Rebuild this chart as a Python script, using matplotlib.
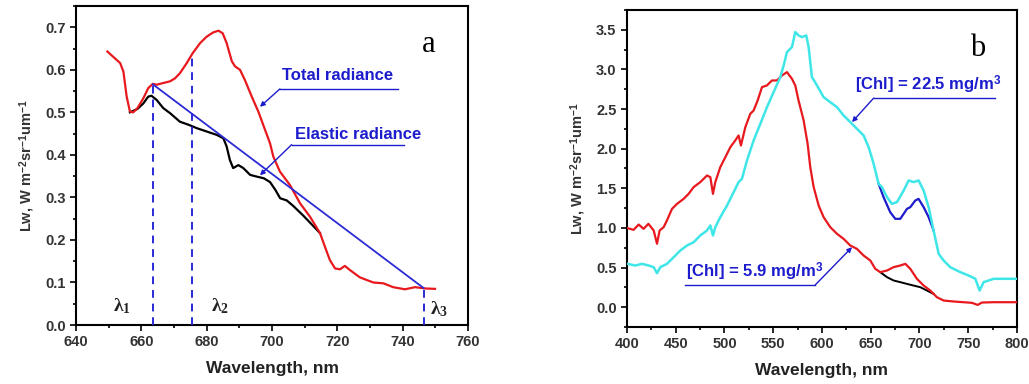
import matplotlib
matplotlib.use("Agg")
import matplotlib.pyplot as plt
from matplotlib.ticker import MultipleLocator

plt.rcParams['font.family'] = ['Liberation Sans', 'DejaVu Sans']
plt.rcParams['font.weight'] = 'bold'
plt.rcParams['mathtext.fontset'] = 'custom'
plt.rcParams['mathtext.rm'] = 'Liberation Serif'
plt.rcParams['mathtext.it'] = 'Liberation Serif:italic'
plt.rcParams['mathtext.bf'] = 'Liberation Sans:bold'

RED = '#e8191e'
CYAN = '#3ee6e8'
DBLUE = '#1c1ccc'
BLUE = '#2a2ad6'
TICKC = '#333333'

# ---- panel a data ----
wl_tot = [649.6, 651.9, 653.5, 654.5, 655.5, 656.5, 657.5, 658.8, 660.6, 662.1,
          663.5, 664.7, 666.7, 668.8, 670.3, 671.8, 673.9, 675.7, 678.0, 680.0,
          682.0, 683.6, 684.9, 686.1, 687.7, 688.7, 690.2, 691.7, 693.8, 695.8,
          699.4, 700.4, 702.4, 705.5, 708.6, 711.6, 714.7, 716.2, 717.7, 719.3,
          720.8, 722.3, 723.9, 726.9, 731.0, 734.1, 737.1, 740.7, 743.8, 746.8, 749.9]
lw_tot = [0.643, 0.627, 0.616, 0.596, 0.537, 0.502, 0.500, 0.510, 0.533, 0.557,
          0.567, 0.565, 0.569, 0.573, 0.580, 0.592, 0.616, 0.639, 0.663, 0.678,
          0.688, 0.692, 0.686, 0.663, 0.620, 0.608, 0.600, 0.576, 0.537, 0.502,
          0.427, 0.396, 0.361, 0.329, 0.286, 0.255, 0.216, 0.184, 0.153, 0.133,
          0.131, 0.139, 0.129, 0.112, 0.100, 0.098, 0.089, 0.084, 0.089, 0.086, 0.085]

wl_ela = [656.5, 658.8, 660.6, 662.1, 663.1, 664.7, 666.7, 668.8, 671.8, 674.4,
          676.9, 680.0, 683.1, 685.1, 686.1, 687.1, 688.1, 689.7, 691.2, 693.3,
          695.3, 697.5, 699.4, 701.0, 702.5, 704.5, 706.5, 709.6, 712.6, 714.7]
lw_ela = [0.500, 0.508, 0.521, 0.537, 0.539, 0.529, 0.510, 0.498, 0.478, 0.471,
          0.463, 0.455, 0.447, 0.439, 0.420, 0.388, 0.369, 0.376, 0.369, 0.353,
          0.349, 0.345, 0.336, 0.318, 0.298, 0.293, 0.280, 0.257, 0.233, 0.216]

base_x = [663.5, 746.4]
base_y = [0.566, 0.087]
lam_x = [663.5, 675.6, 746.4]
lam_top = [0.566, 0.639, 0.087]
lam_labels = [r'$\mathrm{\lambda}_1$', r'$\mathrm{\lambda}_2$', r'$\mathrm{\lambda}_3$']
lam_lab_x = [654.0, 684.0, 751.0]
lam_lab_y = [0.045, 0.045, 0.038]

# ---- panel b data ----
wl_r = [400.7, 406.8, 412.0, 417.0, 422.0, 427.4, 430.8, 433.5, 437.6, 441.0,
        446.2, 451.3, 458.1, 463.2, 468.4, 475.2, 482.1, 485.5, 488.2, 490.6,
        495.7, 500.9, 506.0, 511.1, 514.5, 516.9, 521.4, 526.5, 529.9, 534.0,
        538.5, 543.6, 548.7, 553.8, 559.0, 564.1, 569.2, 572.6, 576.0, 581.2,
        585.3, 588.0, 591.5, 596.6, 601.7, 608.5, 615.4, 622.2, 629.1, 635.9,
        642.7, 649.6, 654.7, 659.8, 666.7, 673.5, 680.3, 685.5, 690.6, 697.4,
        704.3, 711.1, 717.9, 724.8, 735.0, 745.3, 753.8, 759.7, 764.1, 776.1, 800.0]
lw_r = [0.997, 0.976, 1.043, 0.989, 1.052, 0.968, 0.800, 0.968, 1.010, 1.094,
        1.241, 1.304, 1.367, 1.430, 1.515, 1.578, 1.662, 1.641, 1.430, 1.578,
        1.767, 1.893, 2.019, 2.104, 2.167, 2.040, 2.272, 2.440, 2.482, 2.608,
        2.777, 2.798, 2.861, 2.861, 2.924, 2.966, 2.882, 2.798, 2.608, 2.356,
        2.061, 1.767, 1.515, 1.283, 1.136, 1.010, 0.926, 0.862, 0.778, 0.736,
        0.652, 0.589, 0.484, 0.442, 0.463, 0.505, 0.526, 0.547, 0.484, 0.358,
        0.273, 0.210, 0.126, 0.084, 0.072, 0.063, 0.055, 0.029, 0.059, 0.063, 0.063]

wl_k = [659.8, 666.7, 673.5, 680.3, 687.2, 694.0, 700.9, 707.7, 714.5]
lw_k = [0.442, 0.379, 0.337, 0.316, 0.294, 0.273, 0.252, 0.210, 0.168]

wl_c = [400.7, 408.5, 415.4, 422.2, 427.4, 430.8, 434.2, 441.0, 447.9, 454.7,
        461.5, 468.4, 475.2, 482.1, 485.5, 488.2, 490.6, 495.7, 502.6, 509.4,
        514.5, 517.9, 523.1, 529.9, 536.8, 543.6, 550.4, 557.3, 560.7, 564.1,
        569.2, 572.6, 576.0, 579.5, 583.9, 586.3, 589.7, 594.9, 601.7, 608.5,
        615.4, 622.2, 629.1, 635.9, 642.7, 647.9, 653.0, 658.1, 661.5, 666.7,
        671.8, 676.9, 683.8, 688.9, 694.0, 699.1, 704.3, 709.4, 714.5, 719.7,
        724.8, 731.6, 741.9, 750.4, 757.3, 761.7, 765.8, 776.1, 800.0]
lw_c = [0.547, 0.526, 0.547, 0.526, 0.505, 0.429, 0.505, 0.547, 0.631, 0.715,
        0.778, 0.820, 0.905, 0.968, 1.031, 0.905, 1.010, 1.136, 1.283, 1.451,
        1.578, 1.620, 1.851, 2.104, 2.314, 2.524, 2.714, 2.903, 3.050, 3.218,
        3.282, 3.471, 3.429, 3.408, 3.429, 3.282, 2.903, 2.798, 2.650, 2.587,
        2.524, 2.419, 2.335, 2.251, 2.167, 2.019, 1.809, 1.557, 1.515, 1.388,
        1.304, 1.325, 1.472, 1.599, 1.578, 1.599, 1.472, 1.262, 0.968, 0.673,
        0.589, 0.505, 0.442, 0.400, 0.358, 0.210, 0.316, 0.358, 0.358]

wl_db = [658.1, 663.2, 670.0, 675.2, 680.3, 683.8, 687.2, 690.6, 695.7, 699.1,
         704.3, 709.4, 714.5]
lw_db = [1.557, 1.388, 1.199, 1.115, 1.115, 1.178, 1.241, 1.262, 1.346, 1.367,
         1.262, 1.136, 0.968]

# annotations: text, text position, underline x-range, underline y, arrow target
notes_a = [('Total radiance', (703.0, 0.586), (702.4, 738.6), 0.555, (696.3, 0.513)),
           ('Elastic radiance', (707.0, 0.449), (706.0, 740.5), 0.424, (696.3, 0.352))]
notes_b = [(r'[Chl] = 22.5 mg/m$^{\mathbf{3}}$', (634.0, 2.80), (653.0, 777.8), 2.638, (630.8, 2.335)),
           (r'[Chl] = 5.9 mg/m$^{\mathbf{3}}$', (461.0, 0.44), (459.8, 593.2), 0.282, (630.8, 0.757))]

ylab = r'Lw, W m$^{\mathbf{-2}}$sr$^{\mathbf{-1}}$um$^{\mathbf{-1}}$'

fig = plt.figure(figsize=(10.29, 3.84), dpi=100)
axa = fig.add_axes([0.0739, 0.1536, 0.3809, 0.8307])
axb = fig.add_axes([0.6093, 0.1484, 0.3790, 0.8256])


def style(ax):
    for s in ax.spines.values():
        s.set_linewidth(1.5)
    ax.tick_params(which='both', direction='out', top=False, right=False,
                   labelsize=10.5, labelcolor=TICKC, width=1.2)
    ax.tick_params(which='major', length=4)
    ax.tick_params(which='minor', length=2.5)
    for lab in ax.get_xticklabels() + ax.get_yticklabels():
        lab.set_fontweight('bold')


def note(ax, txt, pos, ux, uy, tgt, dash_x0):
    ax.text(pos[0], pos[1], txt, color=DBLUE, fontsize=12, fontweight='bold',
            va='center', ha='left')
    ax.plot(ux, [uy, uy], color=DBLUE, lw=1.0)
    ax.annotate('', xy=tgt, xytext=(dash_x0, uy),
                arrowprops=dict(arrowstyle='-|>', color=DBLUE, lw=1.0,
                                mutation_scale=7, shrinkA=0, shrinkB=0))


# panel a
axa.plot(wl_tot, lw_tot, color=RED, lw=1.6, zorder=3)
axa.plot(wl_ela, lw_ela, color='black', lw=1.6, zorder=2)
axa.plot(base_x, base_y, color=BLUE, lw=1.3, zorder=4)
for xv, top in zip(lam_x, lam_top):
    axa.plot([xv, xv], [0, top], color=BLUE, lw=1.4, ls=(0, (4, 3)), zorder=4)
for lab, xv, yv in zip(lam_labels, lam_lab_x, lam_lab_y):
    axa.text(xv, yv, lab, fontsize=14, ha='center', va='center', color='#222222')
for txt, pos, ux, uy, tgt in notes_a:
    note(axa, txt, pos, ux, uy, tgt, ux[0])
axa.text(0.90, 0.88, 'a', transform=axa.transAxes, fontsize=22,
         family='Liberation Serif', fontweight='normal', ha='center', va='center')
axa.set_xlim(640, 760)
axa.set_ylim(0, 0.75)
axa.xaxis.set_major_locator(MultipleLocator(20))
axa.xaxis.set_minor_locator(MultipleLocator(10))
axa.yaxis.set_major_locator(MultipleLocator(0.1))
axa.yaxis.set_minor_locator(MultipleLocator(0.05))
axa.set_yticks([0, 0.1, 0.2, 0.3, 0.4, 0.5, 0.6, 0.7])
axa.set_xlabel('Wavelength, nm', fontsize=12.5, fontweight='bold', color='#222222', labelpad=8)
axa.set_ylabel(ylab, fontsize=10.5, fontweight='bold', color='#333333', labelpad=6)
style(axa)

# panel b
axb.plot(wl_k, lw_k, color='black', lw=1.4, zorder=2)
axb.plot(wl_r, lw_r, color=RED, lw=1.6, zorder=3)
axb.plot(wl_c, lw_c, color=CYAN, lw=1.8, zorder=3)
axb.plot(wl_db, lw_db, color=DBLUE, lw=1.6, zorder=2)
for i, (txt, pos, ux, uy, tgt) in enumerate(notes_b):
    x0 = ux[0] if i == 0 else ux[1]
    note(axb, txt, pos, ux, uy, tgt, x0)
axb.text(0.90, 0.88, 'b', transform=axb.transAxes, fontsize=22,
         family='Liberation Serif', fontweight='normal', ha='center', va='center')
axb.set_xlim(400, 800)
axb.set_ylim(-0.25, 3.75)
axb.xaxis.set_major_locator(MultipleLocator(50))
axb.xaxis.set_minor_locator(MultipleLocator(25))
axb.yaxis.set_major_locator(MultipleLocator(0.5))
axb.yaxis.set_minor_locator(MultipleLocator(0.25))
axb.set_yticks([0, 0.5, 1.0, 1.5, 2.0, 2.5, 3.0, 3.5])
axb.yaxis.set_major_formatter(plt.FormatStrFormatter('%.1f'))
axb.set_xlabel('Wavelength, nm', fontsize=12.5, fontweight='bold', color='#222222', labelpad=8)
axb.set_ylabel(ylab, fontsize=10.5, fontweight='bold', color='#333333', labelpad=6)
style(axb)

fig.savefig('out.png', dpi=100)
